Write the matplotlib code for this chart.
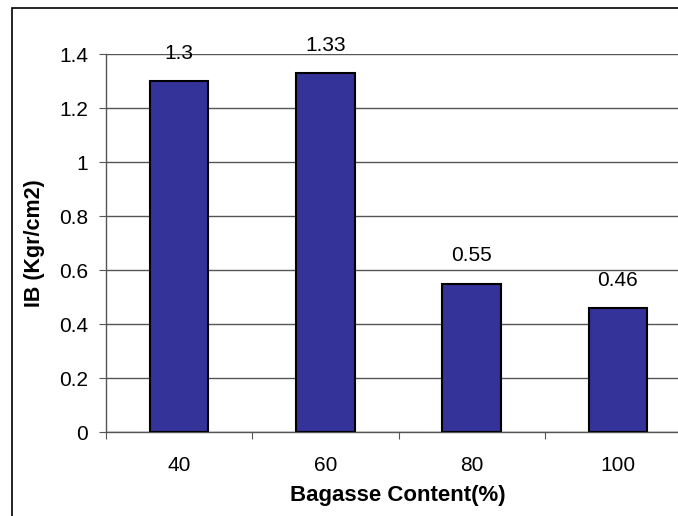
import matplotlib
matplotlib.use("Agg")
import matplotlib.pyplot as plt
from matplotlib.patches import Rectangle
from matplotlib.ticker import FixedLocator, NullFormatter

categories = ["40", "60", "80", "100"]
values = [1.3, 1.33, 0.55, 0.46]
value_labels = ["1.3", "1.33", "0.55", "0.46"]
yticks = [0, 0.2, 0.4, 0.6, 0.8, 1.0, 1.2, 1.4]
ytick_labels = ["0", "0.2", "0.4", "0.6", "0.8", "1", "1.2", "1.4"]

plt.rcParams['font.family'] = ['Liberation Sans', 'DejaVu Sans']

W, H = 678, 516
fig = plt.figure(figsize=(W / 100, H / 100), dpi=100)

# outer border
fig.patches.append(Rectangle((12 / W, 1 - 8 / H - 2), 2, 2, transform=fig.transFigure,
                             fill=False, edgecolor='black', linewidth=1.2))

left, right, top, bottom = 106, 691, 54, 432
ax = fig.add_axes([left / W, 1 - bottom / H, (right - left) / W, (bottom - top) / H])

x = list(range(len(categories)))
ax.bar(x, values, width=0.4, color='#333399', edgecolor='black', linewidth=1.5, zorder=3)

FS = 15
for xi, v, lab in zip(x, values, value_labels):
    ax.annotate(lab, (xi, v), xytext=(0, 20), textcoords='offset points',
                ha='center', va='center', fontsize=FS)

ax.set_xlim(-0.5, len(categories) - 0.5)
ax.set_ylim(0, 1.4)
ax.set_yticks(yticks)
ax.set_yticklabels(ytick_labels, fontsize=FS)
ax.yaxis.grid(True, color='#555555', linewidth=1, zorder=0)
ax.set_axisbelow(True)

ax.xaxis.set_major_locator(FixedLocator([i - 0.5 for i in range(len(categories) + 1)]))
ax.xaxis.set_major_formatter(NullFormatter())
ax.xaxis.set_minor_locator(FixedLocator(x))
ax.set_xticklabels(categories, minor=True, fontsize=FS)
ax.tick_params(axis='x', which='minor', length=0, pad=17)
ax.tick_params(axis='x', which='major', length=5, direction='out', color='#555555')
ax.tick_params(axis='y', length=5, direction='out', pad=8, color='#555555')

for s in ['top', 'right']:
    ax.spines[s].set_visible(False)
for s in ['left', 'bottom']:
    ax.spines[s].set_color('#555555')
    ax.spines[s].set_linewidth(1)

ax.set_xlabel('Bagasse Content(%)', fontsize=16, fontweight='bold')
ax.xaxis.set_label_coords(0.5 - (691 + 106 - 2 * 398) / 2 / (right - left), (432 - 495) / (bottom - top))
ax.xaxis.label.set_va('center')
ax.set_ylabel('IB (Kgr/cm2)', fontsize=15.5, fontweight='bold')
ax.yaxis.set_label_coords((34 - left) / (right - left), (432 - 243) / (bottom - top))
ax.yaxis.label.set_va('center')

fig.savefig('out.png', dpi=100)
